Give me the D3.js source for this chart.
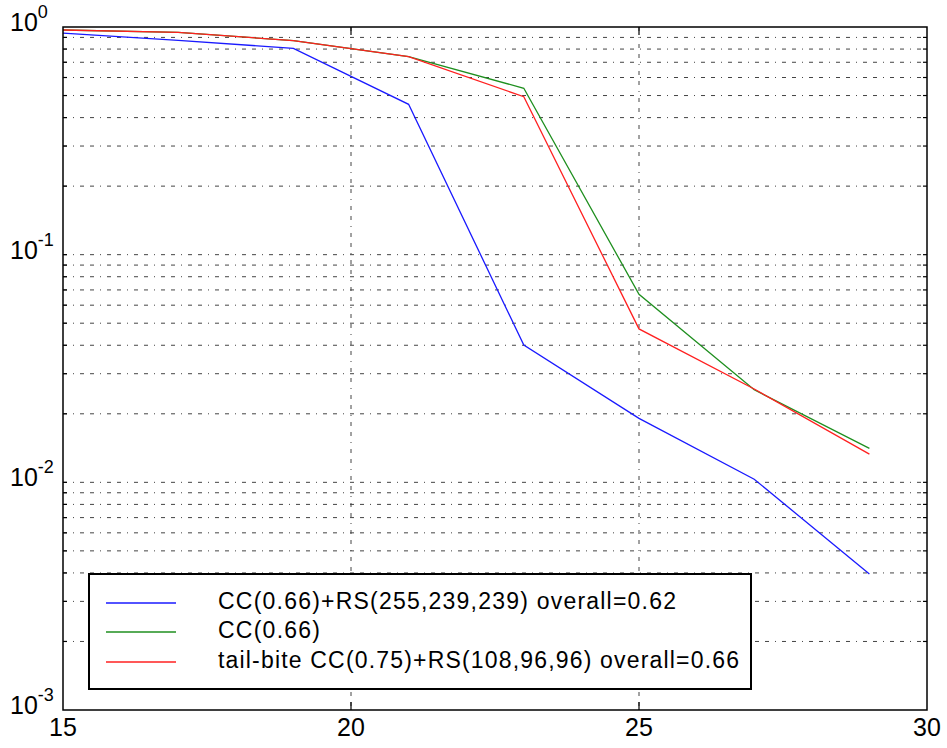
<!DOCTYPE html>
<html>
<head>
<meta charset="utf-8">
<script src="https://cdn.jsdelivr.net/npm/d3@7"></script>
<style>
  body { margin: 0; background: #fff; }
  svg { display: block; font-family: "Liberation Sans", Arial, Helvetica, sans-serif; }
</style>
</head>
<body>
<svg id="chart" width="947" height="748"></svg>
<script>
const xValues = [15, 17, 19, 21, 23, 25, 27, 29];
const blueValues = [0.94, 0.873, 0.806, 0.4575, 0.0401, 0.0191, 0.01032, 0.00396];
const greenValues = [0.97, 0.948, 0.871, 0.741, 0.538, 0.067, 0.0255, 0.0141];
const redValues = [0.97, 0.948, 0.871, 0.741, 0.494, 0.0472, 0.0257, 0.0133];
const seriesNames = [
  "CC(0.66)+RS(255,239,239) overall=0.62",
  "CC(0.66)",
  "tail-bite CC(0.75)+RS(108,96,96) overall=0.66"
];
const seriesColors = ["#1a1aff", "#1f8f1f", "#ff2020"];
const xTicks = [15, 20, 25, 30];
const yMajorExps = [0, -1, -2, -3];

const svg = d3.select("#chart");
const L = 63, R = 927, T = 27, B = 710;
const x = d3.scaleLinear().domain([15, 30]).range([L, R]);
const y = d3.scaleLog().domain([1e-3, 1]).range([B, T]);

const g = svg.append("g");

// grid: horizontal (majors + minors)
const hVals = [];
for (let e = -3; e < 0; e++) {
  for (let m = 1; m <= 9; m++) hVals.push(m * Math.pow(10, e));
}
hVals.push(1);
const inner = hVals.filter(v => v > 1e-3 && v < 1);
g.selectAll("line.hgrid").data(inner).enter().append("line")
  .attr("x1", L).attr("x2", R)
  .attr("y1", d => y(d)).attr("y2", d => y(d))
  .attr("stroke", "#444").attr("stroke-width", 1)
  .attr("stroke-dasharray", "4,6,1,6,4,6");
// vertical grid
g.selectAll("line.vgrid").data(xTicks.filter(v => v > 15 && v < 30)).enter().append("line")
  .attr("x1", d => x(d)).attr("x2", d => x(d))
  .attr("y1", T).attr("y2", B)
  .attr("stroke", "#444").attr("stroke-width", 1)
  .attr("stroke-dasharray", "4,6,1,6,4,6");

// tick marks inside left & right
g.selectAll("line.tl").data(inner).enter().append("line")
  .attr("x1", L).attr("x2", L + 4).attr("y1", d => y(d)).attr("y2", d => y(d))
  .attr("stroke", "#000").attr("stroke-width", 1.2);
g.selectAll("line.tr").data(inner).enter().append("line")
  .attr("x1", R).attr("x2", R - 4).attr("y1", d => y(d)).attr("y2", d => y(d))
  .attr("stroke", "#000").attr("stroke-width", 1.2);
g.selectAll("line.tt").data(xTicks.filter(v => v > 15 && v < 30)).enter().append("line")
  .attr("x1", d => x(d)).attr("x2", d => x(d)).attr("y1", T).attr("y2", T + 8)
  .attr("stroke", "#000").attr("stroke-width", 1.2);
g.selectAll("line.tb").data(xTicks.filter(v => v > 15 && v < 30)).enter().append("line")
  .attr("x1", d => x(d)).attr("x2", d => x(d)).attr("y1", B).attr("y2", B - 8)
  .attr("stroke", "#000").attr("stroke-width", 1.2);

// lines
const line = d3.line().x(d => x(d[0])).y(d => y(d[1]));
const allSeries = [blueValues, greenValues, redValues];
allSeries.forEach((vals, i) => {
  g.append("path")
    .datum(xValues.map((xv, j) => [xv, vals[j]]))
    .attr("d", line)
    .attr("fill", "none")
    .attr("stroke", seriesColors[i])
    .attr("stroke-width", 1.3);
});

// frame
g.append("rect").attr("x", L).attr("y", T).attr("width", R - L).attr("height", B - T)
  .attr("fill", "none").attr("stroke", "#000").attr("stroke-width", 1.5);

// x tick labels
g.selectAll("text.xt").data(xTicks).enter().append("text")
  .attr("x", d => x(d)).attr("y", 736)
  .attr("text-anchor", "middle")
  .attr("font-size", 25)
  .text(d => d);

// y tick labels
yMajorExps.forEach(e => {
  const yy = y(Math.pow(10, e));
  const t = g.append("text").attr("x", 10).attr("y", yy + 4).attr("font-size", 25);
  t.append("tspan").text("10");
  t.append("tspan").attr("font-size", 18).attr("dy", -13).text(e);
});

// legend
const lgX = 89, lgY = 574, lgW = 662, lgH = 115;
const lg = g.append("g");
lg.append("rect").attr("x", lgX).attr("y", lgY).attr("width", lgW).attr("height", lgH)
  .attr("fill", "#fff").attr("stroke", "#000").attr("stroke-width", 2);
const lgLineY = [603, 632, 662];
const lgTextW = [458, 102, 521];
seriesNames.forEach((name, i) => {
  lg.append("line").attr("x1", 106).attr("x2", 176)
    .attr("y1", lgLineY[i]).attr("y2", lgLineY[i])
    .attr("stroke", seriesColors[i]).attr("stroke-width", 1.3);
  lg.append("text").attr("x", 218).attr("y", lgLineY[i] + 6)
    .attr("font-size", 23)
    .attr("textLength", lgTextW[i]).attr("lengthAdjust", "spacing")
    .text(name);
});
</script>
</body>
</html>
